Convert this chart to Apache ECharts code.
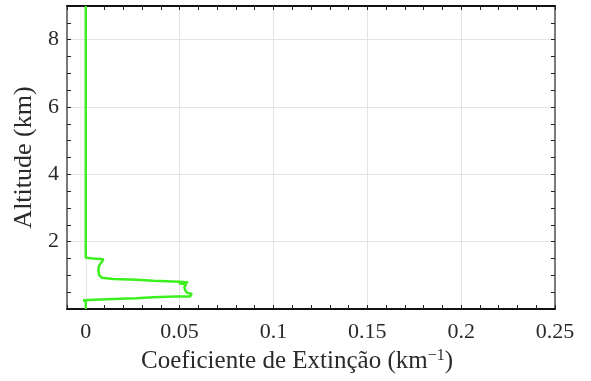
<!DOCTYPE html>
<html>
<head>
<meta charset="utf-8">
<script src="https://cdn.jsdelivr.net/npm/echarts@6/dist/echarts.min.js"></script>
<style>
  html, body { margin: 0; padding: 0; background: #fff; }
  #chart { width: 591px; height: 381px; }
</style>
</head>
<body>
<div id="chart"></div>
<script>
// Extinction profile: coefficient (km^-1) against altitude (km), top to bottom
const extinction = [
  0, 0, 0.004, 0.0094, 0.0103, 0.0085, 0.0071, 0.0067, 0.0071, 0.0085,
  0.0147, 0.027, 0.036, 0.050, 0.0546, 0.0495, 0.0535, 0.0525, 0.053, 0.054,
  0.0565, 0.0558, 0.0555, 0.0475, 0.036, 0.027, 0.0147, 0.001, -0.0015, 0, 0
];
const altitude = [
  9.0, 1.52, 1.50, 1.48, 1.45, 1.39, 1.29, 1.16, 1.01, 0.93,
  0.89, 0.87, 0.84, 0.81, 0.79, 0.77, 0.73, 0.65, 0.55, 0.48,
  0.45, 0.40, 0.37, 0.37, 0.35, 0.32, 0.30, 0.27, 0.255, 0.25, 0
];

// Axis ticks and labels
const xLabels = [0, 0.05, 0.1, 0.15, 0.2, 0.25];
const xTicks = [-0.01, 0, 0.01, 0.02, 0.03, 0.04, 0.05, 0.06, 0.07, 0.08, 0.09, 0.1,
  0.11, 0.12, 0.13, 0.14, 0.15, 0.16, 0.17, 0.18, 0.19, 0.2, 0.21, 0.22, 0.23, 0.24, 0.25];
const yLabels = [2, 4, 6, 8];
const yTicks = [0.5, 1, 1.5, 2, 2.5, 3, 3.5, 4, 4.5, 5, 5.5, 6, 6.5, 7, 7.5, 8, 8.5];

const FONT = '"Liberation Serif", "Times New Roman", serif';
const TEXT = '#2a2a2a';
const profile = extinction.map((v, i) => [v, altitude[i]]);

const chart = echarts.init(document.getElementById('chart'), null, { renderer: 'canvas' });

// Frame axes: line, inward ticks, optional labels and title
function xAxisDef(pos, withText) {
  return {
    type: 'value', position: pos, min: -0.01, max: 0.25,
    axisLine: { show: true, onZero: false, lineStyle: { color: '#111', width: 2 } },
    axisTick: { show: true, inside: true, length: 4, customValues: xTicks, lineStyle: { color: '#222', width: 1 } },
    axisLabel: withText ? {
      show: true, customValues: xLabels, margin: 12,
      fontFamily: FONT, fontSize: 22, color: TEXT,
      formatter: v => String(v)
    } : { show: false },
    splitLine: { show: false },
    name: withText ? 'Coeficiente de Extinção (km{sup|−1})' : '',
    nameLocation: 'middle', nameGap: 37,
    nameTextStyle: {
      fontFamily: FONT, fontSize: 25, color: TEXT, padding: [0, 28, 0, 0],
      rich: { sup: { fontFamily: FONT, fontSize: 16, color: TEXT, verticalAlign: 'top', padding: [0, 0, 12, 0] } }
    }
  };
}

function yAxisDef(pos, withText) {
  return {
    type: 'value', position: pos, min: 0, max: 9,
    axisLine: { show: true, onZero: false, lineStyle: { color: '#7a7a7a', width: 2 } },
    axisTick: { show: true, inside: true, length: 4, customValues: yTicks, lineStyle: { color: '#222', width: 1 } },
    axisLabel: withText ? {
      show: true, customValues: yLabels, margin: 8,
      fontFamily: FONT, fontSize: 22, color: TEXT
    } : { show: false },
    splitLine: { show: false },
    name: withText ? 'Altitude (km)' : '',
    nameLocation: 'middle', nameGap: 27, nameRotate: 90,
    nameTextStyle: { fontFamily: FONT, fontSize: 26, color: TEXT }
  };
}

// Gridline-only axes at the major steps
const gridX = {
  type: 'value', position: 'bottom', min: -0.01, max: 0.25,
  axisLine: { show: false }, axisTick: { show: false }, axisLabel: { show: false },
  splitLine: { show: true, lineStyle: { color: '#e4e4e4', width: 1 } }
};
const gridY = {
  type: 'value', position: 'left', min: 0, max: 9, interval: 2,
  axisLine: { show: false }, axisTick: { show: false }, axisLabel: { show: false },
  splitLine: { show: true, lineStyle: { color: '#e4e4e4', width: 1 } }
};

chart.setOption({
  animation: false,
  backgroundColor: '#fff',
  grid: { left: 67, right: 36, top: 6, bottom: 72, containLabel: false },
  xAxis: [xAxisDef('bottom', true), xAxisDef('top', false), gridX],
  yAxis: [yAxisDef('left', true), yAxisDef('right', false), gridY],
  series: [{
    type: 'line',
    data: profile,
    xAxisIndex: 0, yAxisIndex: 0,
    showSymbol: false,
    smooth: false,
    lineStyle: { color: '#3cf01e', width: 2.5 },
    z: 5
  }]
});
</script>
</body>
</html>
